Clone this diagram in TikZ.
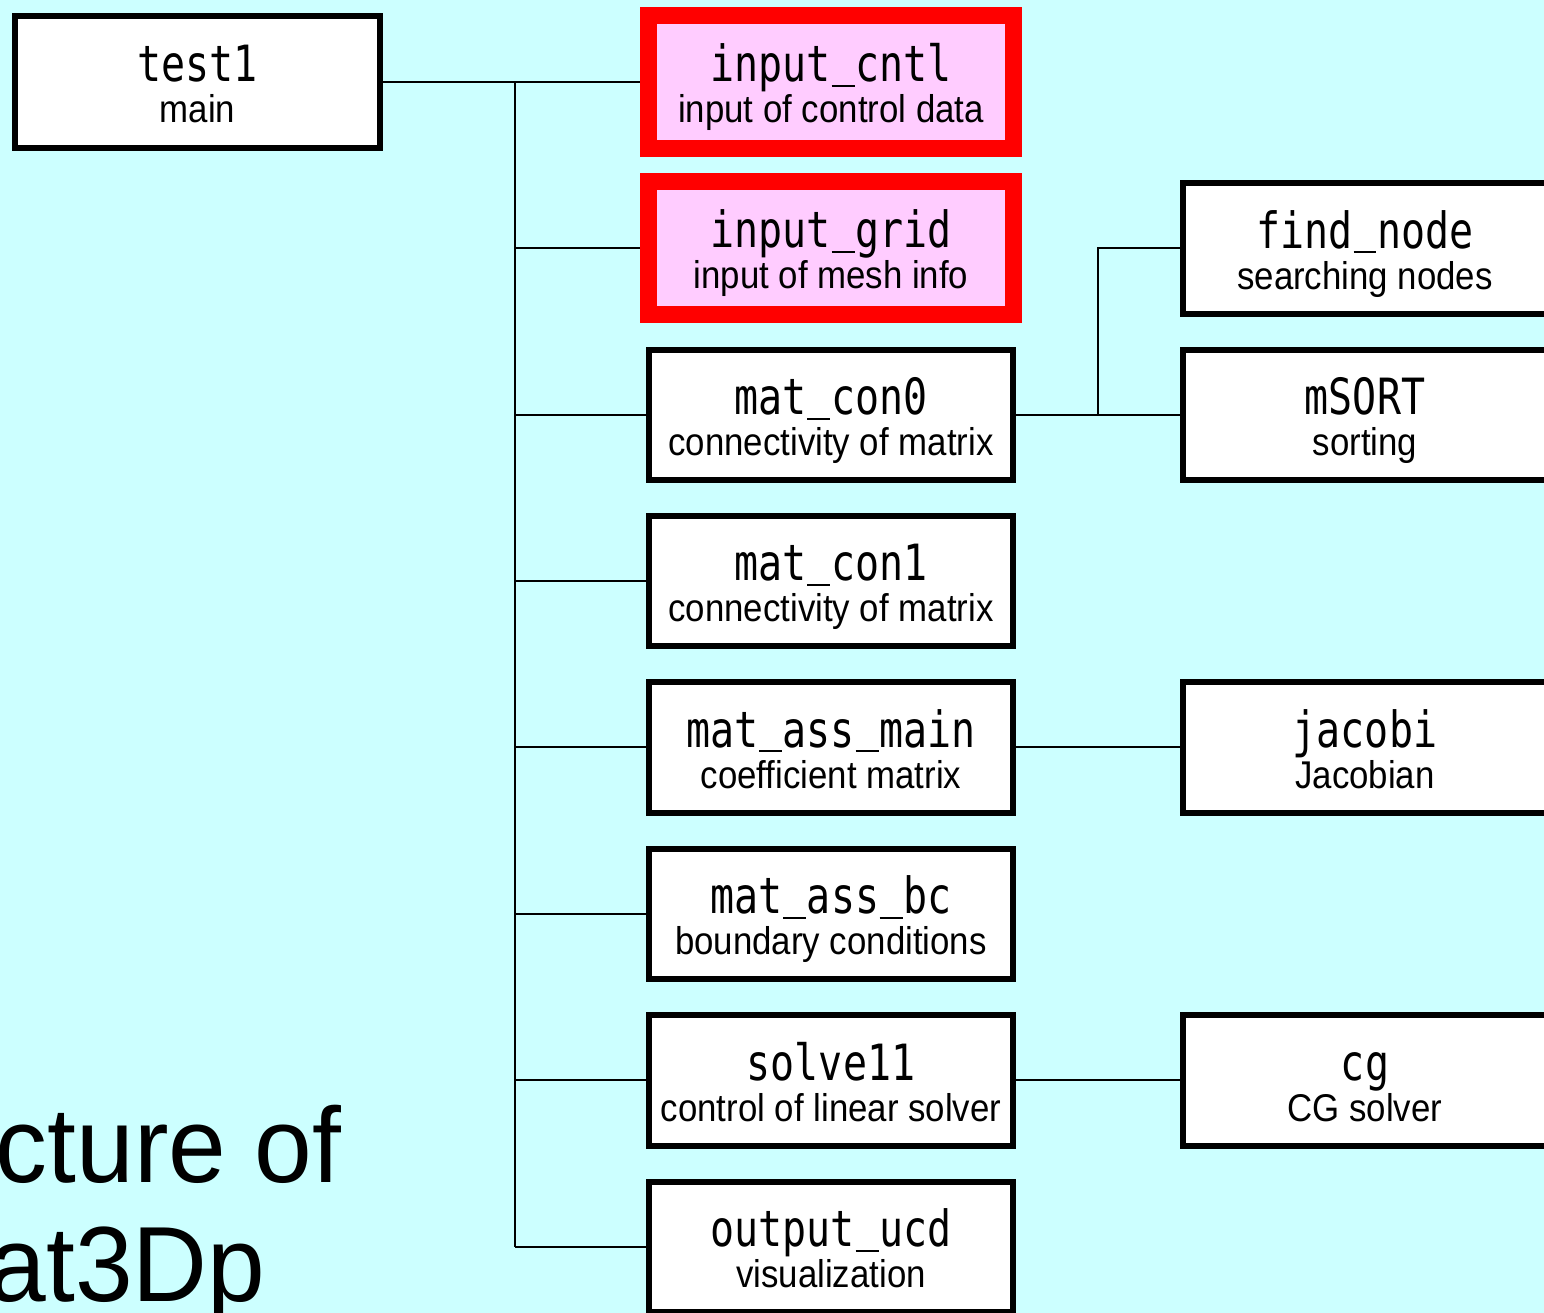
\documentclass[tikz,border=0pt]{standalone}
\usepackage{fontspec}
\setmainfont{Liberation Sans}
\newfontfamily\nmfont[FakeStretch=0.8]{DejaVu Sans Mono}
\newfontfamily\dsfont[FakeStretch=0.9]{Liberation Sans}
\newfontfamily\ttlfont[FakeStretch=0.97]{Liberation Sans}
\definecolor{bgc}{HTML}{CCFFFF}
\definecolor{pinkc}{HTML}{FFCCFF}
\newcommand{\us}{\makebox[0.482em][c]{\rule[-0.1em]{0.46em}{0.045em}}}
\tikzset{
  blkbox/.style={draw=black, fill=white, line width=0.06cm, minimum width=3.64cm, minimum height=1.30cm, inner sep=0pt},
  redbox/.style={draw=red, fill=pinkc, line width=0.17cm, minimum width=3.65cm, minimum height=1.33cm, inner sep=0pt},
  nmtext/.style={anchor=base, font=\nmfont\fontsize{14.2}{16}\selectfont, inner sep=0pt},
  dstext/.style={anchor=base, font=\dsfont\fontsize{11}{13}\selectfont, inner sep=0pt},
  ttltext/.style={anchor=base west, font=\ttlfont\fontsize{30.4}{34}\selectfont, inner sep=0pt},
  conn/.style={draw=black, line width=0.02cm},
}
\newcommand{\blk}[6]{%
  \node[#2] (#1) at (#3,#4) {};
  \node[nmtext] (#1-t) at (#3,#4) {#5};
  \node[dstext] (#1-d) at (#3,#4+41) {#6};
}
\begin{document}
\begin{tikzpicture}[x=0.01cm,y=-0.01cm]
\useasboundingbox (0,0) rectangle (1544,1313);
\fill[bgc] (0,0) rectangle (1544,1313);

% left column
\blk{test1}{blkbox,minimum width=3.65cm,minimum height=1.31cm}{197.5}{82}{test1}{main}

% middle column
\blk{cntl}{redbox}{831}{82}{input\us cntl}{input of control data}
\blk{grid}{redbox}{831}{248}{input\us grid}{input of mesh info}
\blk{con0}{blkbox}{831}{415}{mat\us con0}{connectivity of matrix}
\blk{con1}{blkbox}{831}{581}{mat\us con1}{connectivity of matrix}
\blk{assmain}{blkbox}{831}{747.5}{mat\us ass\us main}{coefficient matrix}
\blk{assbc}{blkbox}{831}{914}{mat\us ass\us bc}{boundary conditions}
\blk{solve}{blkbox}{831}{1080.5}{solve11}{control of linear solver}
\blk{ucd}{blkbox}{831}{1247}{output\us ucd}{visualization}

% right column
\blk{find}{blkbox}{1365}{248.5}{find\us node}{searching nodes}
\blk{msort}{blkbox}{1365}{415}{mSORT}{sorting}
\blk{jacobi}{blkbox}{1365}{747.5}{jacobi}{Jacobian}
\blk{cg}{blkbox}{1365}{1080.5}{cg}{CG solver}

% connectors
\coordinate (trunk) at (515,82);
\coordinate (fork) at (1098,415);
\draw[conn] (test1.east) -- (cntl.west);
\draw[conn] (trunk) -- (trunk |- ucd.west);
\foreach \b in {grid,con0,con1,assmain,assbc,solve,ucd}
  \draw[conn] (trunk |- \b.west) -- (\b.west);
\draw[conn] (con0.east) -- (msort.west);
\draw[conn] (fork) |- (find.west);
\draw[conn] (assmain.east) -- (jacobi.west);
\draw[conn] (solve.east) -- (cg.west);

% title fragments
\node[ttltext] (ttl1) at (-5,1183) {cture of};
\node[ttltext] (ttl2) at (-12,1302) {at3Dp};
\end{tikzpicture}
\end{document}
